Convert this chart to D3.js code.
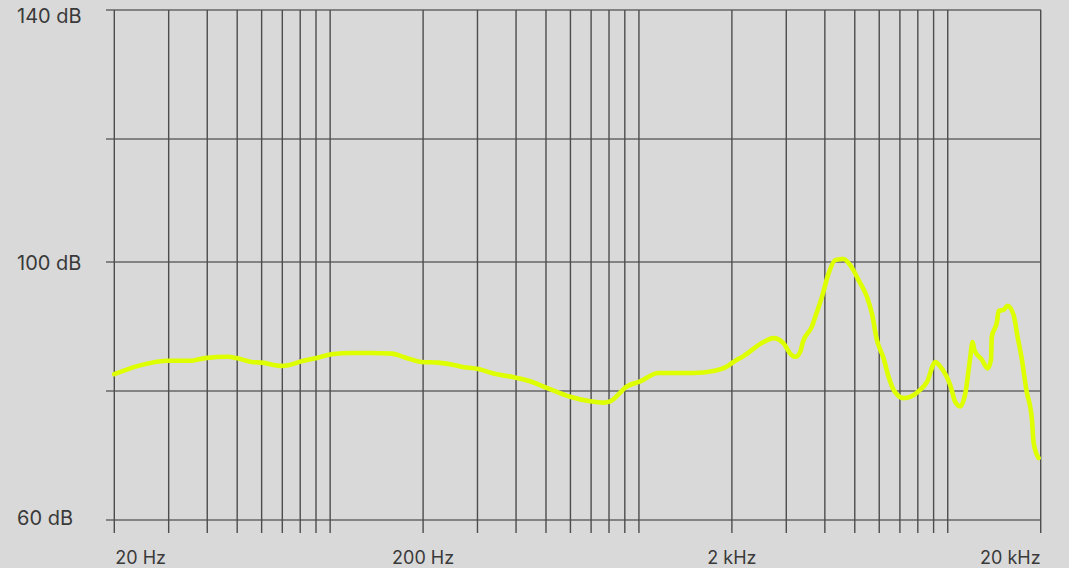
<!DOCTYPE html>
<html>
<head>
<meta charset="utf-8">
<script src="https://cdn.jsdelivr.net/npm/d3@7"></script>
<style>
  html, body { margin: 0; padding: 0; background: #d9d9d9; }
  svg { display: block; }
  text { font-family: Inter, "Noto Sans", sans-serif; fill: #3a3a3a; }
</style>
</head>
<body>
<svg id="chart" width="1069" height="568"></svg>
<script>
// frequency response
var freqs = [20, 23.9, 30, 35.6, 39.3, 46.8, 49.8, 55.7, 60, 69.7, 73.2, 80.9, 91.6, 101, 117.5, 136.4, 158.3, 174.9, 198, 224,
  254, 264, 302, 338, 397, 439, 503, 599, 695, 768, 807, 914, 1009, 1157, 1294, 1502, 1744, 1927, 2024, 2180,
  2532, 2728, 2939, 3090, 3208, 3330, 3396, 3632, 3724, 3914, 4111, 4322, 4598, 4833, 5142, 5474, 5682, 5898, 6196, 6433,
  6676, 7194, 7564, 8148, 8565, 9112, 9458, 10190, 10578, 10980, 11398, 11832, 12036, 12190, 12912, 13458, 13804, 13888, 14436, 14610,
  15164, 15624, 16338, 16834, 17394, 17964, 18742, 18968, 19690];
var levels = [82.6, 83.9, 84.7, 84.7, 85.1, 85.3, 85.1, 84.5, 84.4, 83.9, 84.0, 84.6, 85.2, 85.7, 85.9, 85.9, 85.8, 85.2, 84.5, 84.4,
  84.0, 83.8, 83.4, 82.7, 82.1, 81.6, 80.5, 79.1, 78.4, 78.2, 78.4, 80.7, 81.5, 82.8, 82.8, 82.8, 83.1, 83.8, 84.5, 85.4,
  87.6, 88.2, 87.4, 85.8, 85.3, 86.1, 87.6, 90.0, 91.5, 94.6, 98.2, 100.3, 100.5, 99.5, 97.2, 94.6, 92.0, 87.9, 85.1, 82.2,
  80.2, 78.9, 79.1, 80.2, 81.4, 84.5, 83.8, 80.9, 78.3, 77.6, 79.6, 85.3, 87.6, 86.4, 84.8, 83.5, 84.8, 88.4, 90.7, 92.4,
  92.6, 93.2, 91.8, 88.4, 84.8, 80.2, 75.5, 72.0, 69.6];

var dbTicks = [60, 80, 100, 120, 140];
var dbLabels = [60, 100, 140];
var freqTicks = [20, 30, 40, 50, 60, 70, 80, 90, 100, 200, 300, 400, 500, 600, 700, 800, 900,
  1000, 2000, 3000, 4000, 5000, 6000, 7000, 8000, 9000, 10000, 20000];
var freqLabels = [
  { f: 20, text: "20 Hz", anchor: "start" },
  { f: 200, text: "200 Hz", anchor: "middle" },
  { f: 2000, text: "2 kHz", anchor: "middle" },
  { f: 20000, text: "20 kHz", anchor: "end" }
];

var svg = d3.select("#chart");

var x = d3.scaleLog().domain([20, 20000]).range([114.3, 1040.7]);
// grid in the picture is not evenly spaced, so piecewise linear
var y = d3.scaleLinear().domain([60, 80, 100, 120, 140]).range([520, 391, 262, 139, 10]);

var grid = svg.append("g").attr("class", "grid");

grid.selectAll("line.h")
  .data(dbTicks)
  .enter().append("line")
    .attr("class", "h")
    .attr("x1", 106).attr("x2", 1041)
    .attr("y1", function(d) { return y(d); })
    .attr("y2", function(d) { return y(d); })
    .attr("stroke", "#666")
    .attr("stroke-width", 1.4);

grid.selectAll("line.v")
  .data(freqTicks)
  .enter().append("line")
    .attr("class", "v")
    .attr("x1", function(d) { return x(d); })
    .attr("x2", function(d) { return x(d); })
    .attr("y1", y(140)).attr("y2", 533)
    .attr("stroke", "#4d4d4d")
    .attr("stroke-width", 1.4);

svg.append("g")
  .selectAll("text")
  .data(dbLabels)
  .enter().append("text")
    .attr("x", 17)
    .attr("y", function(d) { return Math.min(Math.max(y(d) + 7.5, 22.7), 525.3); })
    .attr("font-size", 20)
    .text(function(d) { return d + " dB"; });

svg.append("g")
  .selectAll("text")
  .data(freqLabels)
  .enter().append("text")
    .attr("x", function(d) { return x(d.f) + (d.anchor == "start" ? 1 : 0); })
    .attr("y", 564)
    .attr("font-size", 18)
    .attr("text-anchor", function(d) { return d.anchor; })
    .text(function(d) { return d.text; });

var line = d3.line()
  .x(function(d, i) { return x(freqs[i]); })
  .y(function(d, i) { return y(levels[i]); })
  .curve(d3.curveMonotoneX);

svg.append("path")
  .datum(freqs)
  .attr("d", line)
  .attr("fill", "none")
  .attr("stroke", "#ddff00")
  .attr("stroke-width", 4.6)
  .attr("stroke-linejoin", "round")
  .attr("stroke-linecap", "round");
</script>
</body>
</html>
